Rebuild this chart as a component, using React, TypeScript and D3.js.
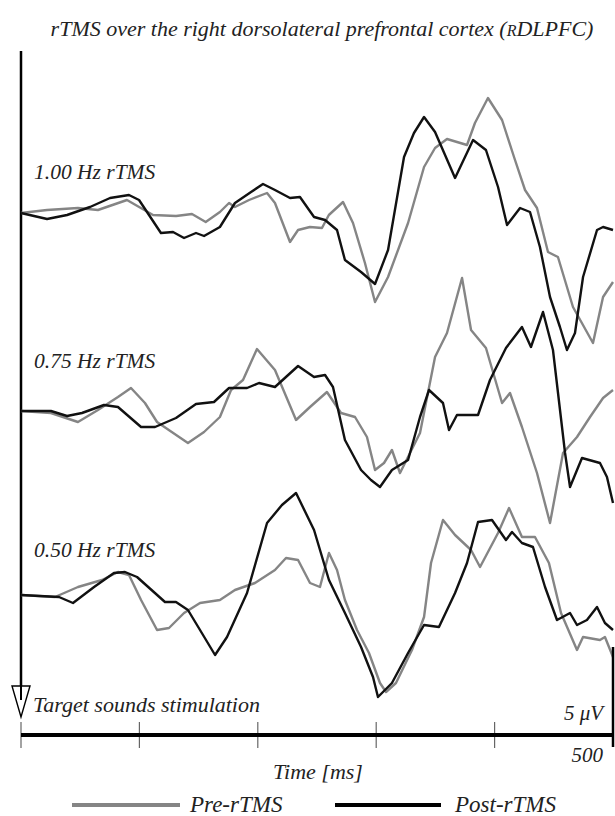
import React from "react";
import * as d3 from "d3";

// Time axis (ms) and tick labels
const timeTicks = [0, 100, 200, 300, 400, 500];
const conditionLabels = ["1.00 Hz rTMS", "0.75 Hz rTMS", "0.50 Hz rTMS"];
const seriesNames = ["Pre-rTMS", "Post-rTMS"];

// Each series: [time ms, amplitude µV] (negative plotted upward)
const pre100: [number, number][] = [
  [0, 0], [22, -0.15], [48.1, -0.25], [65, -0.15], [89.5, -0.65], [111.5, 0.1], [131, 0.15], [144.4, 0.05],
  [156, 0.45], [168, -0.05], [175.7, -0.5], [180.7, -0.3], [192.6, -0.65], [207.8, -1.0], [214.5, -0.5],
  [227.2, 1.45], [234, 0.85], [244, 0.7], [254.2, 0.75], [260, 0.1], [272, -0.55], [280.4, 0.5], [290.5, 2.5],
  [299, 4.45], [310, 3.2], [326.9, 0.5], [340.4, -2.3], [349.7, -3.25], [359.8, -3.7], [376.7, -3.4],
  [383.4, -4.5], [394.4, -5.75], [406.3, -4.65], [416.4, -2.8], [425.7, -1.15], [435.8, -0.25], [445.1, 1.95],
  [453.5, 2.2], [466.2, 4.7], [483.1, 6.5], [491.6, 4.2], [500, 3.45],
];
const post100: [number, number][] = [
  [0, 0], [22, 0.3], [38.9, 0.1], [58.3, -0.3], [75.2, -0.75], [91.2, -0.9], [99.7, -0.65], [118.2, 1.0],
  [128.4, 0.95], [137.7, 1.25], [147.8, 1.0], [154.6, 1.15], [168, 0.7], [180.7, -0.5], [194.3, -1.05],
  [204.4, -1.45], [214.5, -1.15], [227.2, -0.75], [235.6, -0.8], [247.5, 0.2], [256.8, 0.35], [266.9, 0.85],
  [273.6, 2.35], [287.2, 2.95], [299, 3.55], [310, 1.85], [323.5, -2.8], [331.9, -4.0], [340.4, -4.8],
  [349.7, -4.05], [366.6, -1.75], [381.8, -3.65], [392.7, -3.15], [402.9, -1.3], [410.5, 0.6], [421.5, -0.25],
  [429.9, -0.05], [438.3, 1.7], [446.8, 4.2], [455.2, 5.7], [461.1, 6.85], [467.9, 6.0], [474.7, 3.2],
  [486.5, 0.85], [491.6, 0.7], [500, 0.85],
];
const pre075: [number, number][] = [
  [0, 0], [25.3, 0.1], [48.1, 0.55], [65, -0.05], [81.9, -0.7], [92.9, -1.15], [104.7, -0.4], [114.9, 0.55],
  [141, 1.6], [154.6, 1.05], [168, 0.3], [177.4, -1.05], [187.5, -1.55], [199.3, -3.1], [214.5, -2.05],
  [232.3, 0.45], [244.1, -0.2], [258.4, -0.95], [270.3, 0.1], [282.1, 0.3], [292.2, 1.3], [299, 2.95],
  [306.6, 2.6], [313.3, 1.95], [320.1, 3.1], [337, 1.1], [349.7, -2.7], [359.8, -3.9], [372.5, -6.65],
  [380.1, -4.05], [392.7, -3.15], [406.3, -0.4], [413, -0.9], [423.1, 0.8], [435.8, 3.1], [446.8, 5.6],
  [457.8, 2.1], [469.6, 1.3], [480.6, 0.3], [491.6, -0.65], [500, -1.05],
];
const post075: [number, number][] = [
  [0, 0], [25.3, 0], [38.9, 0.25], [51.5, 0.1], [70.1, -0.3], [81.9, -0.2], [101.4, 0.8], [113.2, 0.8],
  [130.9, 0.35], [147.8, -0.35], [163, -0.45], [175.7, -1.15], [190.9, -1.15], [201, -1.4], [214.5, -1.2],
  [234, -2.25], [247.5, -1.7], [256.8, -1.8], [263.5, -1.2], [273.6, 1.45], [287.2, 2.95], [295.6, 3.45],
  [303.2, 3.8], [313.3, 2.95], [326.9, 2.45], [337, 0.3], [344.6, -1.05], [356.4, -0.4], [361.5, 0.95],
  [368.2, 0.2], [386, 0.2], [396.1, -1.55], [409.6, -3.15], [423.1, -4.2], [430.7, -3.2], [440.9, -4.95],
  [449.3, -3.05], [459.5, 2.1], [463.7, 3.8], [473.8, 2.35], [489, 2.6], [494.9, 3.3], [500, 4.6],
];
const pre050: [number, number][] = [
  [0, 0], [28.7, 0.1], [48.1, -0.4], [68.4, -0.75], [81.9, -1.15], [91.2, -1.0], [101.4, 0.25], [114.9, 1.75],
  [125, 1.65], [137.7, 0.9], [151.2, 0.4], [168, 0.25], [180.7, -0.25], [197.6, -0.6], [214.5, -1.25],
  [223.8, -1.85], [234, -1.75], [244.1, -0.6], [252.5, -0.4], [260.1, -2.1], [266.9, -1.25], [273.6, 0.25],
  [283.8, 1.75], [293.9, 2.9], [303.2, 4.4], [308.3, 4.85], [316.7, 4.4], [330.2, 2.75], [340.4, 1.1],
  [346.3, -1.6], [356.4, -3.75], [366.6, -3.0], [380.1, -2.25], [387.7, -1.4], [402.9, -3.1], [412.2, -4.35],
  [423.1, -2.9], [434.1, -2.9], [445.9, -1.6], [456.1, 0.9], [469.6, 2.75], [474.7, 2.1], [489, 2.25],
  [493.2, 2.1], [500, 3.1],
];
const post050: [number, number][] = [
  [0, 0], [32.1, 0.1], [43.9, 0.4], [61.7, -0.4], [78.5, -1.1], [87.8, -1.15], [98, -0.9], [121.6, 0.35],
  [130.9, 0.35], [141, 0.75], [151.2, 1.75], [163.9, 3.0], [174, 2.1], [190.9, -0.1], [207.8, -3.6],
  [220.4, -4.5], [232.3, -5.1], [247.5, -3.25], [260.1, -0.75], [273.6, 0.9], [287.2, 2.6], [297.3, 4.1],
  [301.5, 5.1], [313.3, 4.4], [326.9, 2.9], [340.4, 1.5], [353, 1.6], [366.6, -0.1], [376.7, -1.6],
  [386, -3.65], [397.8, -3.75], [409.6, -2.75], [414.7, -3.15], [423.1, -2.6], [432.4, -2.4], [442.6, -0.4],
  [452.7, 1.25], [463.7, 0.9], [469.6, 1.5], [478, 1.25], [486.5, 0.6], [493.2, 1.4], [500, 1.75],
];

const preSeries = [pre100, pre075, pre050];
const postSeries = [post100, post075, post050];

const W = 615;
const H = 816;
const baselines = [213, 411, 595];
const labelY = [179, 368, 557];
const PX_PER_UV = 20;
const FONT = "'Liberation Serif', 'DejaVu Serif', serif";
const GRAY = "#858585";

export default function App() {
  const x = d3.scaleLinear().domain([0, 500]).range([21, 613]);
  const axisY = 735;

  const lineFor = (base: number) => {
    const y = d3.scaleLinear().domain([0, 5]).range([base, base + 5 * PX_PER_UV]);
    return d3
      .line<[number, number]>()
      .x((d) => x(d[0]))
      .y((d) => y(d[1]))
      .curve(d3.curveLinear);
  };

  return (
    <svg
      width={W}
      height={H}
      style={{ position: "absolute", left: 0, top: 0, display: "block", background: "#fff" }}
      fontFamily={FONT}
    >
      <rect x={0} y={0} width={W} height={H} fill="#fff" />
      {/* Title */}
      <text x={322} y={36} textAnchor="middle" fontSize={22} fontStyle="italic" fill="#222">
        rTMS over the right dorsolateral prefrontal cortex (<tspan fontSize={16}>R</tspan>DLPFC)
      </text>

      {/* Left time-onset axis with open arrowhead */}
      <line x1={21} y1={51} x2={21} y2={698} stroke="#000" strokeWidth={2.5} />
      <path d="M12,686 L30,686 L21,717 Z" fill="#fff" stroke="#000" strokeWidth={1.4} />
      <line x1={21} y1={686} x2={21} y2={700} stroke="#000" strokeWidth={2} />

      {/* Waveforms */}
      {baselines.map((b, i) => {
        const ln = lineFor(b);
        return (
          <g key={i}>
            <path d={ln(preSeries[i]) || ""} fill="none" stroke={GRAY} strokeWidth={2.4} strokeLinejoin="round" />
            <path d={ln(postSeries[i]) || ""} fill="none" stroke="#111" strokeWidth={2.4} strokeLinejoin="round" />
          </g>
        );
      })}

      {/* Condition labels */}
      {conditionLabels.map((l, i) => (
        <text key={l} x={34} y={labelY[i]} fontSize={21.5} fontStyle="italic" fill="#222">
          {l}
        </text>
      ))}

      <text x={33} y={712} fontSize={22} fontStyle="italic" fill="#222">
        Target sounds stimulation
      </text>

      {/* Time axis */}
      {timeTicks.slice(0, 5).map((t) => (
        <line key={t} x1={x(t)} x2={x(t)} y1={722} y2={748} stroke="#666" strokeWidth={1.2} />
      ))}
      <line x1={x(0)} x2={x(500)} y1={axisY} y2={axisY} stroke="#000" strokeWidth={4} />
      {/* 5 µV scale bar at 500 ms */}
      <line x1={x(500)} x2={x(500)} y1={axisY - 5 * PX_PER_UV + 12} y2={747} stroke="#000" strokeWidth={2.5} />
      <text x={603} y={720} textAnchor="end" fontSize={21} fontStyle="italic" fill="#222">
        5 μV
      </text>
      <text x={603} y={762} textAnchor="end" fontSize={21} fontStyle="italic" fill="#222">
        {timeTicks[5]}
      </text>
      <text x={318} y={779} textAnchor="middle" fontSize={22} fontStyle="italic" fill="#222">
        Time [ms]
      </text>

      {/* Legend */}
      <line x1={72} x2={180} y1={805} y2={805} stroke={GRAY} strokeWidth={4} />
      <text x={190} y={812} fontSize={23} fontStyle="italic" fill="#222">
        {seriesNames[0]}
      </text>
      <line x1={335} x2={441} y1={805} y2={805} stroke="#000" strokeWidth={4} />
      <text x={455} y={812} fontSize={23} fontStyle="italic" fill="#222">
        {seriesNames[1]}
      </text>
    </svg>
  );
}
